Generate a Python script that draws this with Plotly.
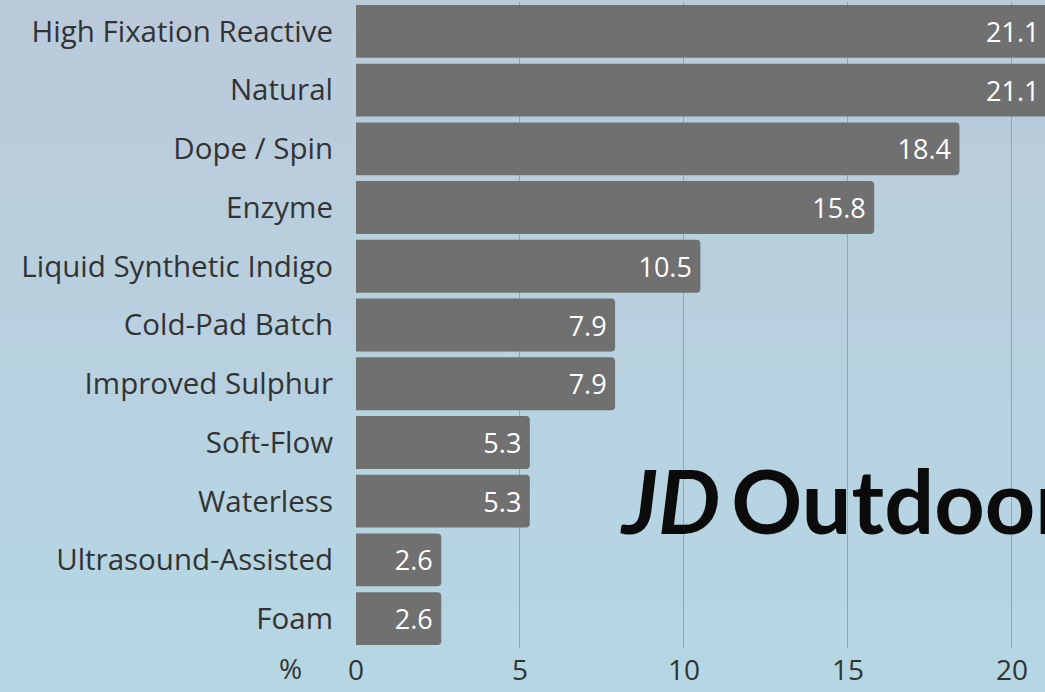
import plotly.graph_objects as go

categories = ["High Fixation Reactive", "Natural", "Dope / Spin", "Enzyme",
              "Liquid Synthetic Indigo", "Cold-Pad Batch", "Improved Sulphur",
              "Soft-Flow", "Waterless", "Ultrasound-Assisted", "Foam"]
values = [21.1, 21.1, 18.4, 15.8, 10.5, 7.9, 7.9, 5.3, 5.3, 2.6, 2.6]
tick_vals = [0, 5, 10, 15, 20]

FONT = "Open Sans"
W, H = 1048, 692
L, R, T, B = 356, 0, 2, 44
PW, PH = W - L - R, H - T - B

fig = go.Figure(go.Bar(
    y=categories, x=values, orientation="h",
    marker=dict(color="#707070", cornerradius=4, line=dict(width=0)),
    text=[f"{v:.1f}\u2009" for v in values],
    textposition="inside", insidetextanchor="end",
    textfont=dict(color="white", size=27, family=FONT),
))

fig.update_layout(
    width=W, height=H,
    margin=dict(l=L, r=R, t=T, b=B),
    paper_bgcolor="#b8cfdd", plot_bgcolor="rgba(0,0,0,0)",
    bargap=0.1,
    showlegend=False,
    font=dict(family=FONT, color="#333333", size=28),
    xaxis=dict(range=[0, 21.1], tickvals=tick_vals, showgrid=True,
               gridcolor="#98a4ad", gridwidth=1, zeroline=False,
               showline=False, ticks="", ticklabelstandoff=3,
               tickfont=dict(size=28, color="#333333")),
    yaxis=dict(categoryorder="array", categoryarray=categories[::-1],
               showgrid=False, ticks="", ticklen=0, ticklabelstandoff=22,
               tickfont=dict(size=29.5, color="#333333")),
    uniformtext=dict(mode="show", minsize=10),
)

# soft vertical background gradient (decorative)
top = (0xba, 0xca, 0xdb)
bot = (0xb5, 0xd7, 0xe3)
n = 24
shapes = []
for i in range(n):
    f = i / (n - 1)
    c = tuple(round(top[k] + (bot[k] - top[k]) * f) for k in range(3))
    y1 = (H - i * H / n) / PH - B / PH
    y0 = (H - (i + 1) * H / n) / PH - B / PH
    shapes.append(dict(type="rect", xref="paper", yref="paper",
                       x0=-L / PW - 0.01, x1=1.01, y0=y0 - 0.002, y1=y1 + 0.002,
                       fillcolor="rgb(%d,%d,%d)" % c, line=dict(width=0),
                       layer="below"))
fig.update_layout(shapes=shapes)

fig.add_annotation(text="%", xref="paper", yref="paper",
                   x=(290 - L) / PW, y=-(668 - (H - B)) / PH,
                   xanchor="center", yanchor="middle", showarrow=False,
                   font=dict(size=28, color="#333333", family=FONT))

fig.add_annotation(text="<b><i>JD</i></b>\u2009<b>Outdoor</b>", xref="paper", yref="paper",
                   x=(618 - L) / PW, y=((H - B) - 500) / PH,
                   xanchor="left", yanchor="middle", showarrow=False,
                   font=dict(size=88, color="#0b0b0b", family="Lato"))

fig.write_html("out.html", config={"displayModeBar": False},
               post_script="document.body.style.margin='0';"
                           "document.body.style.overflow='hidden';"
                           "document.documentElement.style.overflow='hidden';")
